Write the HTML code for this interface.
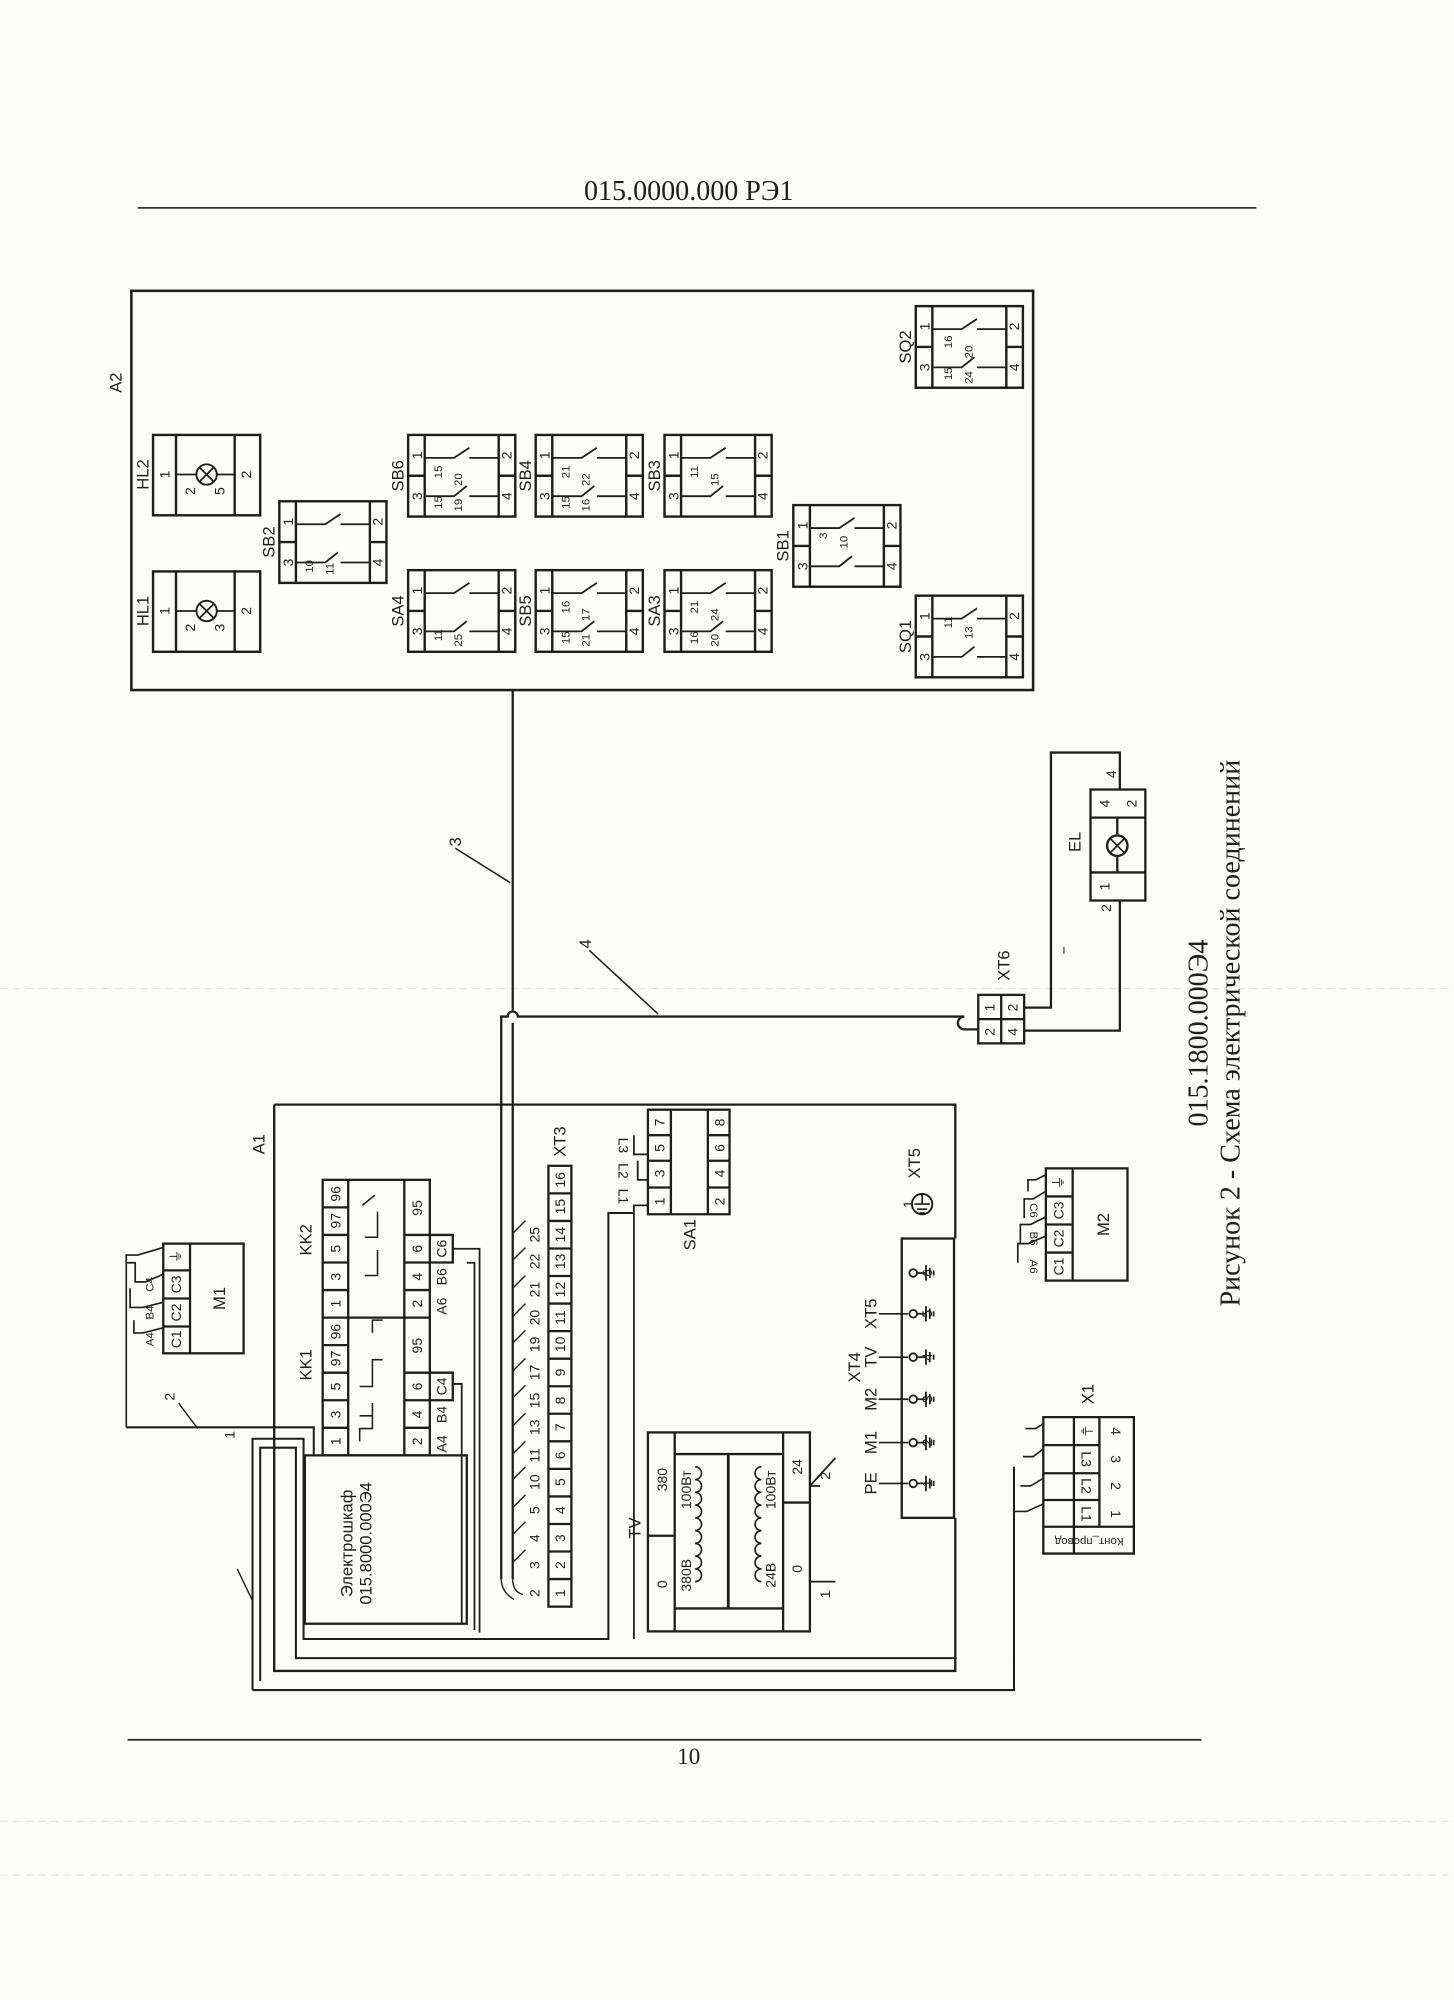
<!DOCTYPE html>
<html><head><meta charset="utf-8"><style>
html,body{margin:0;padding:0;background:#fcfcfb;}
svg{display:block;}
text{font-family:"Liberation Sans","DejaVu Sans",sans-serif;fill:#1e1e1e;}
.t{font-size:11px;text-anchor:middle;dominant-baseline:central;}
.l{font-size:13px;text-anchor:middle;dominant-baseline:central;}
.s{font-size:9px;text-anchor:middle;dominant-baseline:central;}
.ser{font-family:"Liberation Serif","DejaVu Serif",serif;}
</style></head><body>
<svg width="1454" height="2000" viewBox="0 0 1140 1568" preserveAspectRatio="none" xmlns="http://www.w3.org/2000/svg">
<defs>
<g id="bx" fill="none" stroke="#1e1e1e" stroke-width="1.9">
<rect x="0" y="0" width="84" height="64"/>
<path d="M13 0V64M71 0V64M0 32H13M71 32H84"/>
<path d="M13 18H36L48 10M48 18H71M13 48H36L46 40M48 48H71" stroke-width="1.4"/>
</g>
<g id="lp" fill="none" stroke="#1e1e1e" stroke-width="1.9">
<rect x="0" y="0" width="84" height="63"/>
<path d="M18 0V63M64 0V63"/>
<path d="M18 31H34M50 31H64" stroke-width="1.4"/>
<circle cx="42" cy="31" r="8" stroke-width="1.5"/>
<path d="M36.5 25.5L47.5 36.5M47.5 25.5L36.5 36.5" stroke-width="1.4"/>
</g>
<g id="gnd" stroke="#1e1e1e" stroke-width="1.4" fill="none">
<circle cx="0" cy="0" r="3"/><path d="M3 0H10M10 -6V6M13 -4V4M16 -2V2"/>
</g>
</defs>

<path d="M0 775H1140M0 1428H1140M0 1470H1140" stroke="#e6e6e6" stroke-width="1" stroke-dasharray="6 4"/>

<text x="540" y="150" class="ser" font-size="22" text-anchor="middle" dominant-baseline="central">015.0000.000 РЭ1</text>
<path d="M108 163H985" stroke="#333" stroke-width="1.4"/>
<path d="M100 1364H942" stroke="#333" stroke-width="1.4"/>
<text x="540" y="1377" class="ser" font-size="18" text-anchor="middle" dominant-baseline="central">10</text>

<text transform="translate(940 810) rotate(-90)" class="ser" font-size="22" text-anchor="middle" dominant-baseline="central">015.1800.000Э4</text>
<text transform="translate(965 810) rotate(-90)" class="ser" font-size="22" text-anchor="middle" dominant-baseline="central">Рисунок 2 - Схема электрической соединений</text>

<rect x="103" y="228" width="707" height="313" fill="none" stroke="#1e1e1e" stroke-width="2"/>
<text transform="translate(91 300) rotate(-90)" class="l">A2</text>

<use href="#lp" x="120" y="341"/>
<text class="t" transform="translate(129 372) rotate(-90)">1</text><text class="t" transform="translate(193 372) rotate(-90)">2</text>
<text class="t" transform="translate(149 385) rotate(-90)">2</text><text class="t" transform="translate(172 385) rotate(-90)">5</text>
<text class="l" transform="translate(112 372) rotate(-90)">HL2</text>
<use href="#lp" x="120" y="448"/>
<text class="t" transform="translate(129 479) rotate(-90)">1</text><text class="t" transform="translate(193 479) rotate(-90)">2</text>
<text class="t" transform="translate(149 492) rotate(-90)">2</text><text class="t" transform="translate(172 492) rotate(-90)">3</text>
<text class="l" transform="translate(112 479) rotate(-90)">HL1</text>

<g>
<use href="#bx" x="219" y="393"/>
<text class="t" transform="translate(226 409) rotate(-90)">1</text><text class="t" transform="translate(226 441) rotate(-90)">3</text><text class="t" transform="translate(296 409) rotate(-90)">2</text><text class="t" transform="translate(296 441) rotate(-90)">4</text>
<text class="s" transform="translate(243 444) rotate(-90)">10</text><text class="s" transform="translate(259 446) rotate(-90)">11</text>
<text class="l" transform="translate(211 425) rotate(-90)">SB2</text>

<use href="#bx" x="320" y="341"/>
<text class="t" transform="translate(327 357) rotate(-90)">1</text><text class="t" transform="translate(327 389) rotate(-90)">3</text><text class="t" transform="translate(397 357) rotate(-90)">2</text><text class="t" transform="translate(397 389) rotate(-90)">4</text>
<text class="s" transform="translate(344 370) rotate(-90)">15</text><text class="s" transform="translate(360 376) rotate(-90)">20</text><text class="s" transform="translate(344 394) rotate(-90)">15</text><text class="s" transform="translate(360 396) rotate(-90)">19</text>
<text class="l" transform="translate(312 373) rotate(-90)">SB6</text>

<use href="#bx" x="420" y="341"/>
<text class="t" transform="translate(427 357) rotate(-90)">1</text><text class="t" transform="translate(427 389) rotate(-90)">3</text><text class="t" transform="translate(497 357) rotate(-90)">2</text><text class="t" transform="translate(497 389) rotate(-90)">4</text>
<text class="s" transform="translate(444 370) rotate(-90)">21</text><text class="s" transform="translate(460 376) rotate(-90)">22</text><text class="s" transform="translate(444 394) rotate(-90)">15</text><text class="s" transform="translate(460 396) rotate(-90)">16</text>
<text class="l" transform="translate(412 373) rotate(-90)">SB4</text>

<use href="#bx" x="521" y="341"/>
<text class="t" transform="translate(528 357) rotate(-90)">1</text><text class="t" transform="translate(528 389) rotate(-90)">3</text><text class="t" transform="translate(598 357) rotate(-90)">2</text><text class="t" transform="translate(598 389) rotate(-90)">4</text>
<text class="s" transform="translate(545 370) rotate(-90)">11</text><text class="s" transform="translate(561 376) rotate(-90)">15</text>
<text class="l" transform="translate(513 373) rotate(-90)">SB3</text>

<use href="#bx" x="320" y="447"/>
<text class="t" transform="translate(327 463) rotate(-90)">1</text><text class="t" transform="translate(327 495) rotate(-90)">3</text><text class="t" transform="translate(397 463) rotate(-90)">2</text><text class="t" transform="translate(397 495) rotate(-90)">4</text>
<text class="s" transform="translate(344 498) rotate(-90)">11</text><text class="s" transform="translate(360 502) rotate(-90)">25</text>
<text class="l" transform="translate(312 479) rotate(-90)">SA4</text>

<use href="#bx" x="420" y="447"/>
<text class="t" transform="translate(427 463) rotate(-90)">1</text><text class="t" transform="translate(427 495) rotate(-90)">3</text><text class="t" transform="translate(497 463) rotate(-90)">2</text><text class="t" transform="translate(497 495) rotate(-90)">4</text>
<text class="s" transform="translate(444 476) rotate(-90)">16</text><text class="s" transform="translate(460 482) rotate(-90)">17</text><text class="s" transform="translate(444 500) rotate(-90)">15</text><text class="s" transform="translate(460 502) rotate(-90)">21</text>
<text class="l" transform="translate(412 479) rotate(-90)">SB5</text>

<use href="#bx" x="521" y="447"/>
<text class="t" transform="translate(528 463) rotate(-90)">1</text><text class="t" transform="translate(528 495) rotate(-90)">3</text><text class="t" transform="translate(598 463) rotate(-90)">2</text><text class="t" transform="translate(598 495) rotate(-90)">4</text>
<text class="s" transform="translate(545 476) rotate(-90)">21</text><text class="s" transform="translate(561 482) rotate(-90)">24</text><text class="s" transform="translate(545 500) rotate(-90)">16</text><text class="s" transform="translate(561 502) rotate(-90)">20</text>
<text class="l" transform="translate(513 479) rotate(-90)">SA3</text>

<use href="#bx" x="622" y="396"/>
<text class="t" transform="translate(629 412) rotate(-90)">1</text><text class="t" transform="translate(629 444) rotate(-90)">3</text><text class="t" transform="translate(699 412) rotate(-90)">2</text><text class="t" transform="translate(699 444) rotate(-90)">4</text>
<text class="s" transform="translate(646 420) rotate(-90)">3</text><text class="s" transform="translate(662 425) rotate(-90)">10</text>
<text class="l" transform="translate(614 428) rotate(-90)">SB1</text>

<use href="#bx" x="718" y="240"/>
<text class="t" transform="translate(725 256) rotate(-90)">1</text><text class="t" transform="translate(725 288) rotate(-90)">3</text><text class="t" transform="translate(795 256) rotate(-90)">2</text><text class="t" transform="translate(795 288) rotate(-90)">4</text>
<text class="s" transform="translate(744 268) rotate(-90)">16</text><text class="s" transform="translate(760 276) rotate(-90)">20</text><text class="s" transform="translate(744 293) rotate(-90)">15</text><text class="s" transform="translate(760 296) rotate(-90)">24</text>
<text class="l" transform="translate(710 272) rotate(-90)">SQ2</text>

<use href="#bx" x="718" y="467"/>
<text class="t" transform="translate(725 483) rotate(-90)">1</text><text class="t" transform="translate(725 515) rotate(-90)">3</text><text class="t" transform="translate(795 483) rotate(-90)">2</text><text class="t" transform="translate(795 515) rotate(-90)">4</text>
<text class="s" transform="translate(744 488) rotate(-90)">11</text><text class="s" transform="translate(760 496) rotate(-90)">13</text>
<text class="l" transform="translate(710 499) rotate(-90)">SQ1</text>
</g>

<g fill="none" stroke="#1e1e1e" stroke-width="1.8">
<path d="M402 541V792M402 802V1238"/>
<path d="M393 797V1238M392 797H398a4 4 0 0 1 8 0H756"/>
<path d="M357 665L400 692M462 745L516 795" stroke-width="1.2"/>
<rect x="767" y="780" width="36" height="38"/>
<path d="M785 780V818M767 799H803"/>
<path d="M756 797a5 5 0 0 0 0 10H767"/>
<path d="M803 790H824V590H878V619M803 808H878V706"/>
<rect x="855" y="619" width="43" height="87"/>
<path d="M855 641H898M855 684H898M876 641V654M876 672V684"/>
<circle cx="876" cy="663" r="8"/><path d="M870.5 657.5l11 11M881.5 657.5l-11 11" stroke-width="1.3"/>
</g>
<text class="l" transform="translate(357 660) rotate(-90)">3</text>
<text class="l" transform="translate(459 740) rotate(-90)">4</text>
<text class="l" transform="translate(787 757) rotate(-90)">XT6</text>
<text class="t" transform="translate(776 790) rotate(-90)">1</text><text class="t" transform="translate(794 790) rotate(-90)">2</text>
<text class="t" transform="translate(776 809) rotate(-90)">2</text><text class="t" transform="translate(794 809) rotate(-90)">4</text>
<text class="l" transform="translate(843 660) rotate(-90)">EL</text>
<text class="t" transform="translate(866 630) rotate(-90)">4</text><text class="t" transform="translate(866 695) rotate(-90)">1</text>
<text class="t" transform="translate(887 630) rotate(-90)">2</text>
<text class="t" transform="translate(871 607) rotate(-90)">4</text><text class="t" transform="translate(867 712) rotate(-90)">2</text>
<text class="t" transform="translate(834 745) rotate(-90)">−</text>

<g fill="none" stroke="#1e1e1e" stroke-width="1.8">
<path d="M215 866H749V971M749 1190V1310H215V866"/>
<rect x="253" y="925" width="84" height="216"/>
<path d="M273 925V1141M317 925V1141"/>
<path d="M253 946.6H273M253 968.2H273M253 989.8H273M253 1011.4H273M253 1033H337M253 1054.6H273M253 1076.2H273M253 1097.8H273M253 1119.4H273"/>
<path d="M317 968.2H337M317 989.8H337M317 1011.4H337M317 1076.2H337M317 1097.8H337M317 1119.4H337"/>
<path d="M337 968.2H355V989.8H337M337 1076.2H355V1097.8H337"/>
<path d="M282 1130V1120H292V1100M282 1110H292M282 1087H292V1066H300M292 1045V1035H300M286 1000H296V980M286 970H296V950M284 945l10 -8" stroke-width="1.2"/>
<rect x="239" y="1141" width="127" height="132"/>
<path d="M366 990H372V1278M355 1085H362V1273M355 979H376V1280" stroke-width="1.4"/>
<rect x="430" y="914" width="18" height="345.6"/>
<path d="M430 935.6H448M430 957.2H448M430 978.8H448M430 1000.4H448M430 1022H448M430 1043.6H448M430 1065.2H448M430 1086.8H448M430 1108.4H448M430 1130H448M430 1151.6H448M430 1173.2H448M430 1194.8H448M430 1216.4H448M430 1238H448"/>
<path d="M402 1238q0 10 8 12M393 1238q0 10 10 16M402 1225l10 -10M402 1203l10 -10M402 1182l10 -10M402 1160l10 -10M402 1140l10 -10M402 1118l10 -10M402 1096l10 -10M402 1075l10 -10M402 1053l10 -10M402 1032l10 -10M402 1010l10 -10M402 988l10 -10M402 967l10 -10" stroke-width="1.1"/>
<path d="M508 870H572V952H508Z M526 870V952M555 870V952M508 890H526M508 910H526M508 931H526M555 890H572M555 910H572M555 931H572"/>
<path d="M508 945H497V1285M508 925H500V910M508 905H497V890" stroke-width="1.4"/>
<rect x="508" y="1123" width="127" height="156"/>
<path d="M529 1123V1279M614 1123V1279M508 1204H529M614 1178H635M529 1140H614M529 1261H614"/>
<path d="M571 1140V1261" stroke-width="2.2"/>
<path d="M545 1150a5 5 0 0 1 0 10a5 5 0 0 1 0 10a5 5 0 0 1 0 10a5 5 0 0 1 0 10a5 5 0 0 1 0 10a5 5 0 0 1 0 10a5 5 0 0 1 0 10a5 5 0 0 1 0 10a5 5 0 0 1 0 10" stroke-width="1.3"/>
<path d="M597 1150a5 5 0 0 0 0 10a5 5 0 0 0 0 10a5 5 0 0 0 0 10a5 5 0 0 0 0 10a5 5 0 0 0 0 10a5 5 0 0 0 0 10a5 5 0 0 0 0 10a5 5 0 0 0 0 10a5 5 0 0 0 0 10" stroke-width="1.3"/>
<path d="M635 1165l20 -22M635 1165h8M635 1240H655" stroke-width="1.4"/>
<rect x="707" y="971" width="41" height="219"/>
<path d="M689 1163H712M689 1131H712M689 1097H712M689 1064H712M689 1030H712" stroke-width="1.3"/>
<rect x="128" y="975" width="63" height="86"/>
<path d="M149 975V1061M128 1018H149M128 1040H149M128 996H149"/>
<path d="M99 1119V984H108l20 -6M99 990H106V1005H114l14 -6M102 1010V1025H112l16 -4M105 1035V1045H112l16 -4" stroke-width="1.3"/>
<path d="M99 1119H246V1141" stroke-width="1.6"/>
<path d="M140 1100l15 20" stroke-width="1.1"/>
<path d="M198 1325V1128H238V1285H477V951H497" stroke-width="1.6"/>
<path d="M198 1325H795V1150M204 1318V1135H232V1300H750" stroke-width="1.6"/>
<path d="M238 1285H366" stroke-width="1.6"/>
<path d="M186 1230l12 25" stroke-width="1.1"/>
<rect x="820" y="916" width="64" height="88"/>
<path d="M841 916V1004M820 938H841M820 960H841M820 982H841"/>
<path d="M798 990V975H806l14 -6M800 975V960H808l12 -6M803 955V940H810l10 -6M806 934V925H812l8 -4" stroke-width="1.3"/>
<path d="M818 1111H889V1218H818Z M842 1111V1218M862 1111V1197M818 1133H862M818 1155H862M818 1176H862M818 1197H889"/>
<path d="M795 1185H805l13 -6M800 1165H808l10 -6M802 1142H810l8 -6M804 1120H812l6 -4M795 1150V1185" stroke-width="1.3"/>
</g>
<use href="#gnd" x="716" y="1163"/><use href="#gnd" x="716" y="1131"/><use href="#gnd" x="716" y="1097"/>
<use href="#gnd" x="716" y="1064"/><use href="#gnd" x="716" y="1030"/><use href="#gnd" x="716" y="998"/>
<circle cx="723" cy="944" r="8" fill="none" stroke="#1e1e1e" stroke-width="1.5"/>
<path d="M717 944h12M719 948h8M721 951h4M723 936V944" stroke="#1e1e1e" stroke-width="1.3"/>

<text class="l" transform="translate(203 897) rotate(-90)">A1</text>
<text class="l" transform="translate(240 1070) rotate(-90)">KK1</text>
<text class="l" transform="translate(240 972) rotate(-90)">KK2</text>
<text class="t" transform="translate(263 1130) rotate(-90)">1</text><text class="t" transform="translate(263 1109) rotate(-90)">3</text><text class="t" transform="translate(263 1087) rotate(-90)">5</text><text class="t" transform="translate(263 1065) rotate(-90)">97</text><text class="t" transform="translate(263 1044) rotate(-90)">96</text>
<text class="t" transform="translate(263 1022) rotate(-90)">1</text><text class="t" transform="translate(263 1001) rotate(-90)">3</text><text class="t" transform="translate(263 979) rotate(-90)">5</text><text class="t" transform="translate(263 957) rotate(-90)">97</text><text class="t" transform="translate(263 936) rotate(-90)">96</text>
<text class="t" transform="translate(327 1130) rotate(-90)">2</text><text class="t" transform="translate(327 1109) rotate(-90)">4</text><text class="t" transform="translate(327 1087) rotate(-90)">6</text><text class="t" transform="translate(327 1055) rotate(-90)">95</text>
<text class="t" transform="translate(327 1022) rotate(-90)">2</text><text class="t" transform="translate(327 1001) rotate(-90)">4</text><text class="t" transform="translate(327 979) rotate(-90)">6</text><text class="t" transform="translate(327 947) rotate(-90)">95</text>
<text class="t" transform="translate(346 1087) rotate(-90)">C4</text><text class="t" transform="translate(346 1109) rotate(-90)">B4</text><text class="t" transform="translate(346 1132) rotate(-90)">A4</text>
<text class="t" transform="translate(346 979) rotate(-90)">C6</text><text class="t" transform="translate(346 1001) rotate(-90)">B6</text><text class="t" transform="translate(346 1024) rotate(-90)">A6</text>
<text class="l" transform="translate(272 1210) rotate(-90)">Электрошкаф</text>
<text class="l" transform="translate(287 1210) rotate(-90)">015.8000.000Э4</text>

<text class="t" transform="translate(439 1249) rotate(-90)">1</text><text class="t" transform="translate(439 1227) rotate(-90)">2</text><text class="t" transform="translate(439 1206) rotate(-90)">3</text><text class="t" transform="translate(439 1184) rotate(-90)">4</text>
<text class="t" transform="translate(439 1162) rotate(-90)">5</text><text class="t" transform="translate(439 1141) rotate(-90)">6</text><text class="t" transform="translate(439 1119) rotate(-90)">7</text><text class="t" transform="translate(439 1098) rotate(-90)">8</text>
<text class="t" transform="translate(439 1076) rotate(-90)">9</text><text class="t" transform="translate(439 1054) rotate(-90)">10</text><text class="t" transform="translate(439 1033) rotate(-90)">11</text><text class="t" transform="translate(439 1011) rotate(-90)">12</text>
<text class="t" transform="translate(439 989) rotate(-90)">13</text><text class="t" transform="translate(439 968) rotate(-90)">14</text><text class="t" transform="translate(439 946) rotate(-90)">15</text><text class="t" transform="translate(439 925) rotate(-90)">16</text>
<text class="t" transform="translate(419 1249) rotate(-90)">2</text><text class="t" transform="translate(419 1227) rotate(-90)">3</text><text class="t" transform="translate(419 1206) rotate(-90)">4</text><text class="t" transform="translate(419 1184) rotate(-90)">5</text>
<text class="t" transform="translate(419 1162) rotate(-90)">10</text><text class="t" transform="translate(419 1141) rotate(-90)">11</text><text class="t" transform="translate(419 1119) rotate(-90)">13</text><text class="t" transform="translate(419 1098) rotate(-90)">15</text>
<text class="t" transform="translate(419 1076) rotate(-90)">17</text><text class="t" transform="translate(419 1054) rotate(-90)">19</text><text class="t" transform="translate(419 1033) rotate(-90)">20</text><text class="t" transform="translate(419 1011) rotate(-90)">21</text>
<text class="t" transform="translate(419 989) rotate(-90)">22</text><text class="t" transform="translate(419 968) rotate(-90)">25</text>
<text class="l" transform="translate(439 895) rotate(-90)">XT3</text>

<text class="t" transform="translate(517 942) rotate(-90)">1</text><text class="t" transform="translate(517 920) rotate(-90)">3</text><text class="t" transform="translate(517 900) rotate(-90)">5</text><text class="t" transform="translate(517 880) rotate(-90)">7</text>
<text class="t" transform="translate(564 942) rotate(-90)">2</text><text class="t" transform="translate(564 920) rotate(-90)">4</text><text class="t" transform="translate(564 900) rotate(-90)">6</text><text class="t" transform="translate(564 880) rotate(-90)">8</text>
<text class="t" transform="translate(489 938) rotate(90)">L1</text><text class="t" transform="translate(489 918) rotate(90)">L2</text><text class="t" transform="translate(489 898) rotate(90)">L3</text>
<text class="l" transform="translate(541 968) rotate(-90)">SA1</text>

<text class="l" transform="translate(498 1198) rotate(-90)">TV</text>
<text class="t" transform="translate(519 1242) rotate(-90)">0</text><text class="t" transform="translate(519 1160) rotate(-90)">380</text>
<text class="t" transform="translate(538 1235) rotate(-90)">380В</text><text class="t" transform="translate(538 1168) rotate(-90)">100Вт</text>
<text class="t" transform="translate(604 1235) rotate(-90)">24В</text><text class="t" transform="translate(604 1168) rotate(-90)">100Вт</text>
<text class="t" transform="translate(625 1230) rotate(-90)">0</text><text class="t" transform="translate(625 1150) rotate(-90)">24</text>
<text class="t" transform="translate(647 1250) rotate(-90)">1</text><text class="t" transform="translate(647 1157) rotate(-90)">2</text>

<text class="t" transform="translate(727 1163) rotate(-90)">1</text><text class="t" transform="translate(727 1131) rotate(-90)">2</text><text class="t" transform="translate(727 1097) rotate(-90)">3</text>
<text class="t" transform="translate(727 1064) rotate(-90)">4</text><text class="t" transform="translate(727 1030) rotate(-90)">5</text><text class="t" transform="translate(727 998) rotate(-90)">6</text>
<text class="l" transform="translate(683 1163) rotate(-90)">PE</text><text class="l" transform="translate(683 1131) rotate(-90)">M1</text><text class="l" transform="translate(683 1097) rotate(-90)">M2</text>
<text class="l" transform="translate(683 1064) rotate(-90)">TV</text><text class="l" transform="translate(670 1072) rotate(-90)">XT4</text><text class="l" transform="translate(683 1030) rotate(-90)">XT5</text>
<text class="t" transform="translate(712 944) rotate(-90)">1</text><text class="l" transform="translate(717 912) rotate(-90)">XT5</text>

<text class="t" transform="translate(138 1050) rotate(-90)">C1</text><text class="t" transform="translate(138 1029) rotate(-90)">C2</text><text class="t" transform="translate(138 1007) rotate(-90)">C3</text><text class="t" transform="translate(138 985) rotate(-90)">⏚</text>
<text class="l" transform="translate(172 1018) rotate(-90)">M1</text>
<text class="s" transform="translate(118 1050) rotate(-90)">A4</text><text class="s" transform="translate(118 1029) rotate(-90)">B4</text><text class="s" transform="translate(118 1007) rotate(-90)">C4</text>
<text class="t" transform="translate(133 1095) rotate(-90)">2</text><text class="t" transform="translate(180 1125) rotate(-90)">1</text>

<text class="t" transform="translate(830 993) rotate(-90)">C1</text><text class="t" transform="translate(830 971) rotate(-90)">C2</text><text class="t" transform="translate(830 949) rotate(-90)">C3</text><text class="t" transform="translate(830 927) rotate(-90)">⏚</text>
<text class="l" transform="translate(865 960) rotate(-90)">M2</text>
<text class="s" transform="translate(810 993) rotate(90)">A6</text><text class="s" transform="translate(810 971) rotate(90)">B6</text><text class="s" transform="translate(810 949) rotate(90)">C6</text>

<text class="l" transform="translate(853 1093) rotate(-90)">X1</text>
<text class="t" transform="translate(852 1187) rotate(90)">L1</text><text class="t" transform="translate(852 1165) rotate(90)">L2</text><text class="t" transform="translate(852 1144) rotate(90)">L3</text><text class="t" transform="translate(852 1122) rotate(90)">⏚</text>
<text class="t" transform="translate(875 1187) rotate(90)">1</text><text class="t" transform="translate(875 1165) rotate(90)">2</text><text class="t" transform="translate(875 1144) rotate(90)">3</text><text class="t" transform="translate(875 1122) rotate(90)">4</text>
<text class="s" transform="translate(854 1208) rotate(180)">Конт_провод</text>
</svg>
</body></html>
